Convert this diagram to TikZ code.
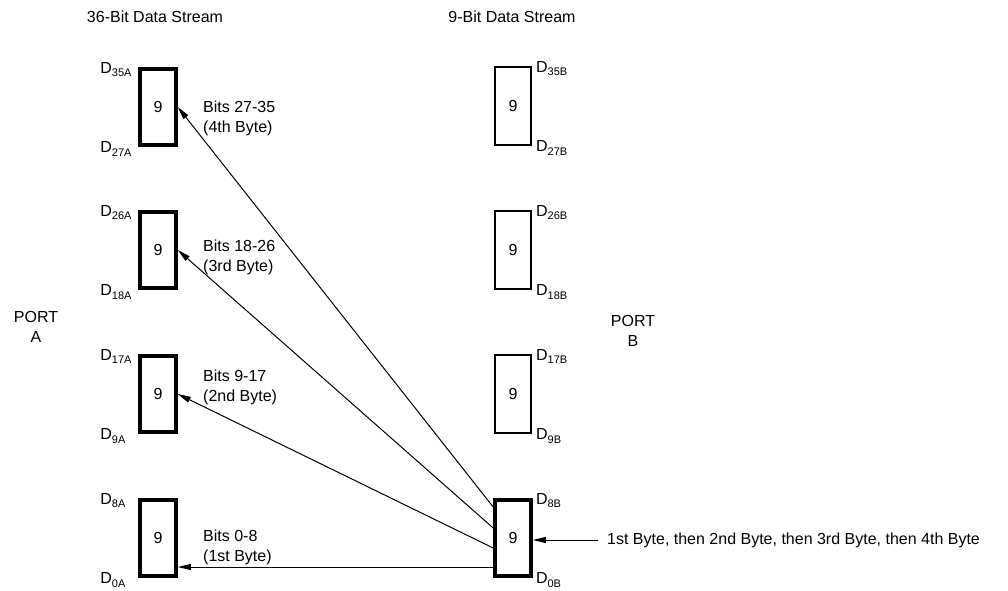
\documentclass[tikz,border=0pt]{standalone}
\usepackage{fontspec}
\setmainfont{Liberation Sans}
\usetikzlibrary{arrows.meta}
\newcommand{\dsub}[1]{\raisebox{-3.5pt}{\fontsize{11}{11}\selectfont #1}}
\begin{document}
\begin{tikzpicture}[x=1pt,y=-1pt,
  every node/.style={font=\fontsize{16}{20}\selectfont},
  thickbox/.style={draw, line width=3.6pt, minimum width=36pt, minimum height=76pt, inner sep=0pt},
  thinbox/.style={draw, line width=1.8pt, minimum width=36pt, minimum height=78pt, inner sep=0pt},
  arr/.style={line width=1pt, -{Triangle[length=13pt,width=6pt]}},
  dl/.style={inner sep=0pt, anchor=base west},
  dr/.style={inner sep=0pt, anchor=base west},
  txt/.style={inner sep=0pt, align=left, anchor=west}]
\useasboundingbox (0,0) rectangle (1008,590);

% titles
\node (title36) at (155,17) {36-Bit Data Stream};
\node (title9) at (512,17) {9-Bit Data Stream};
\node[align=center, inner sep=0pt] (porta) at (36,327) {PORT\\A};
\node[align=center, inner sep=0pt] (portb) at (633,331) {PORT\\B};

% port A boxes
\node[thickbox] (a4) at (158,107) {9};
\node[thickbox] (a3) at (158,250) {9};
\node[thickbox] (a2) at (158,394) {9};
\node[thickbox] (a1) at (158,538) {9};

% port B boxes
\node[thinbox] (b4) at (513,106) {9};
\node[thinbox] (b3) at (513,250) {9};
\node[thinbox] (b2) at (513,394) {9};
\node[thickbox] (b1) at (513,538) {9};

% port A labels
\node[dl] (la4t) at ([xshift=-38pt,yshift=-6pt]a4.north west) {D\dsub{35A}};
\node[dl] (la4b) at ([xshift=-38pt,yshift=-6pt]a4.south west) {D\dsub{27A}};
\node[dl] (la3t) at ([xshift=-38pt,yshift=-6pt]a3.north west) {D\dsub{26A}};
\node[dl] (la3b) at ([xshift=-38pt,yshift=-6pt]a3.south west) {D\dsub{18A}};
\node[dl] (la2t) at ([xshift=-38pt,yshift=-6pt]a2.north west) {D\dsub{17A}};
\node[dl] (la2b) at ([xshift=-38pt,yshift=-6pt]a2.south west) {D\dsub{9A}};
\node[dl] (la1t) at ([xshift=-38pt,yshift=-6pt]a1.north west) {D\dsub{8A}};
\node[dl] (la1b) at ([xshift=-38pt,yshift=-6pt]a1.south west) {D\dsub{0A}};

% port B labels
\node[dr] (lb4t) at ([xshift=4pt,yshift=-6pt]b4.north east) {D\dsub{35B}};
\node[dr] (lb4b) at ([xshift=4pt,yshift=-6pt]b4.south east) {D\dsub{27B}};
\node[dr] (lb3t) at ([xshift=4pt,yshift=-6pt]b3.north east) {D\dsub{26B}};
\node[dr] (lb3b) at ([xshift=4pt,yshift=-6pt]b3.south east) {D\dsub{18B}};
\node[dr] (lb2t) at ([xshift=4pt,yshift=-6pt]b2.north east) {D\dsub{17B}};
\node[dr] (lb2b) at ([xshift=4pt,yshift=-6pt]b2.south east) {D\dsub{9B}};
\node[dr] (lb1t) at ([xshift=3pt,yshift=-6pt]b1.north east) {D\dsub{8B}};
\node[dr] (lb1b) at ([xshift=3pt,yshift=-6pt]b1.south east) {D\dsub{0B}};

% arrow labels
\node[txt] (t4) at (203,118) {Bits 27-35\\(4th Byte)};
\node[txt] (t3) at (203,257) {Bits 18-26\\(3rd Byte)};
\node[txt] (t2) at (203,387) {Bits 9-17\\(2nd Byte)};
\node[txt] (t1) at (203,547) {Bits 0-8\\(1st Byte)};

% arrows
\draw[arr] ([yshift=31pt]b1.west) -- (a4.east);
\draw[arr] ([yshift=10pt]b1.west) -- (a3.east);
\draw[arr] ([yshift=-10pt]b1.west) -- (a2.east);
\draw[arr] ([yshift=-29pt]b1.west) -- ([yshift=-29pt]a1.east);

% input
\coordinate (in) at (598,540);
\draw[arr] (in) -- ([yshift=-2pt]b1.east);
\node[txt] (inlbl) at (607,540) {1st Byte, then 2nd Byte, then 3rd Byte, then 4th Byte};
\end{tikzpicture}
\end{document}
